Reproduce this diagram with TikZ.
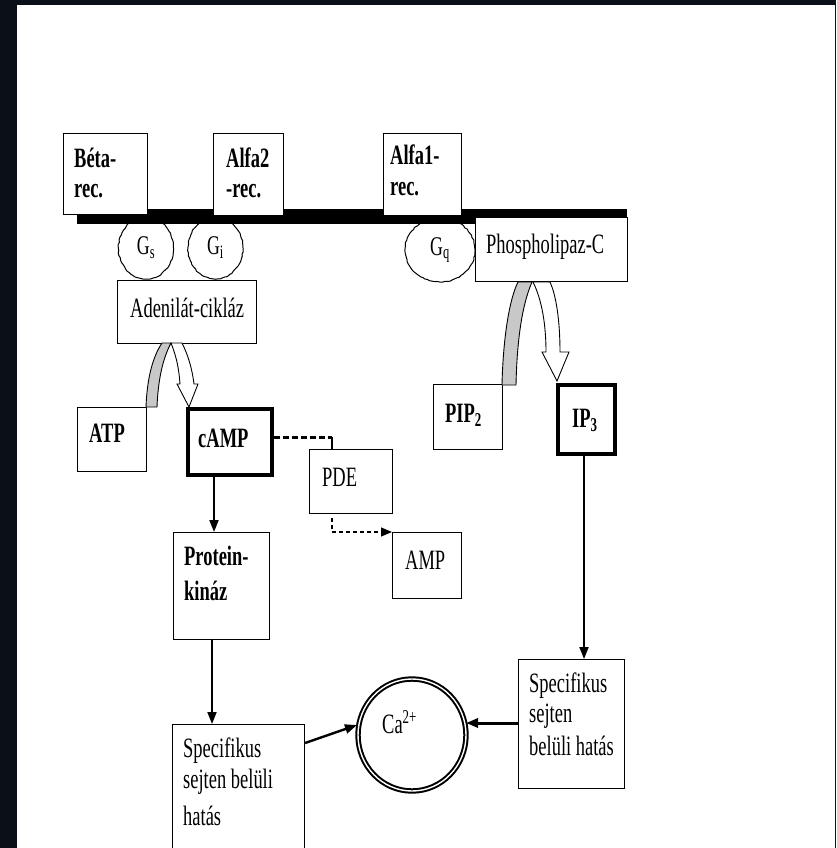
\documentclass[tikz,border=0pt]{standalone}
\usepackage{fontspec}
\setmainfont{Liberation Serif}[FakeStretch=0.66]
\usetikzlibrary{arrows.meta,shapes.geometric,decorations.pathmorphing}
\definecolor{bgdark}{HTML}{0A0F18}
\definecolor{bandgray}{HTML}{C8C8C8}
\newcommand{\txt}[4][lbl]{\node[#1] (#2) at (#3) {#4};}
\begin{document}
\begin{tikzpicture}[x=1pt,y=-1pt,
  box/.style={draw=black, line width=1.1pt, fill=white, inner sep=0pt, anchor=north west},
  thickbox/.style={box, line width=3.6pt},
  lbl/.style={anchor=base west, inner sep=0pt, font=\fontsize{28}{30}\selectfont},
  blbl/.style={lbl, font=\fontsize{28}{30}\selectfont\bfseries},
  gnode/.style={ellipse, draw=black, fill=white, line width=1pt, inner sep=0pt,
    decorate, decoration={random steps, segment length=2.5pt, amplitude=0.5pt},
    font=\fontsize{27}{30}\selectfont},
  arr/.style={-{Triangle[length=12pt,width=9pt]}, line width=1.8pt},
  band/.style={fill=bandgray, draw=black, line width=0.9pt},
  hollow/.style={fill=white, draw=black, line width=0.9pt}
]
\pgfmathsetseed{7}
\useasboundingbox (0,0) rectangle (836,848);
\clip (0,0) rectangle (836,848);
\fill[bgdark] (0,0) rectangle (836,848);
\fill[white] (17,5) rectangle (835,848);

% G proteins
\node[gnode, minimum width=55pt, minimum height=62pt] (gs) at (146,248) {G\textsubscript{s}};
\node[gnode, minimum width=55pt, minimum height=62pt] (gi) at (215.5,248) {G\textsubscript{i}};
\node[gnode, minimum width=70pt, minimum height=64pt] (gq) at (440,250) {G\textsubscript{q}};

% membrane
\fill[black] (77,209) rectangle (627,224);

% boxes
\node[box, minimum width=84pt, minimum height=81pt] (beta) at (63,133) {};
\node[box, minimum width=70pt, minimum height=82pt] (alfa2) at (213,133) {};
\node[box, minimum width=78pt, minimum height=82pt] (alfa1) at (383,133) {};
\node[box, minimum width=152pt, minimum height=64pt] (plc) at (475,217) {};
\node[box, minimum width=139pt, minimum height=63pt] (adc) at (117,280) {};
\node[box, minimum width=69pt, minimum height=64pt] (atp) at (77,407) {};
\node[thickbox, minimum width=84pt, minimum height=66pt] (camp) at (186,407) {};
\node[box, minimum width=83pt, minimum height=64pt] (pde) at (309,449) {};
\node[box, minimum width=69pt, minimum height=66pt] (amp) at (392,532) {};
\node[box, minimum width=96pt, minimum height=107pt] (pk) at (173,532) {};
\node[box, minimum width=69pt, minimum height=65pt] (pip) at (433,384) {};
\node[thickbox, minimum width=57pt, minimum height=69pt] (ip3) at (556,383) {};
\node[box, minimum width=106pt, minimum height=129pt] (spr) at (518,659) {};
\node[box, minimum width=132pt, minimum height=140pt] (spl) at (172,724) {};
\node[ellipse, draw=black, line width=2pt, double=white, double distance=1.4pt,
      minimum width=108pt, minimum height=112pt, inner sep=0pt] (ca) at (412,735) {};

% labels
\txt[blbl]{tbeta1}{74,167}{Béta-}
\txt[blbl]{tbeta2}{74,197}{rec.}
\txt[blbl]{talfa2a}{226,167}{Alfa2}
\txt[blbl]{talfa2b}{226,197}{-rec.}
\txt[blbl]{talfa1a}{390,164}{Alfa1-}
\txt[blbl]{talfa1b}{390,195}{rec.}
\txt{tplc}{486,253}{Phospholipaz-C}
\txt{tadc}{130,317}{Adenilát-cikláz}
\txt[blbl]{tatp}{89,442}{ATP}
\txt[blbl]{tcamp}{198,447}{cAMP}
\txt{tpde}{322,486}{PDE}
\txt{tamp}{405,569}{AMP}
\txt[blbl]{tpk1}{184,565}{Protein-}
\txt[blbl]{tpk2}{184,600}{kináz}
\txt[blbl]{tpip}{445,422}{PIP\textsubscript{2}}
\txt[blbl]{tip3}{572,427}{IP\textsubscript{3}}
\txt{tca}{382,733}{Ca\textsuperscript{2+}}
\txt{tspr1}{529,692}{Specifikus}
\txt{tspr2}{529,722}{sejten}
\txt{tspr3}{529,755}{belüli hatás}
\txt{tspl1}{183,757}{Specifikus}
\txt{tspl2}{183,788}{sejten belüli}
\txt{tspl3}{183,825}{hatás}

% curved conversion arrows (adenilat-ciklaz)
\filldraw[band] (162,343) .. controls (152,358) and (147,380) .. (146,407)
  -- (157,407) .. controls (158,382) and (162,360) .. (171,343) -- cycle;
\filldraw[hollow] (171,343) .. controls (177,358) and (179,370) .. (180,384)
  -- (177,384) -- (189,407) -- (198,384) -- (194,384)
  .. controls (192,368) and (188,355) .. (182,343) -- cycle;
% curved conversion arrows (phospholipaz-C)
\filldraw[band] (518,282) .. controls (509,300) and (503,340) .. (502,385)
  -- (516,385) .. controls (517,340) and (522,305) .. (532,282) -- cycle;
\filldraw[hollow] (533,282) .. controls (542,300) and (546,325) .. (546,352)
  -- (542,352) -- (557,381) -- (569,352) -- (560,352)
  .. controls (560,320) and (556,295) .. (550,282) -- cycle;

% coordinates for connectors
\coordinate (x214) at (214,0);
\coordinate (x212) at (212,0);
\coordinate (x584) at (584,0);
\coordinate (pdeC) at (332,437);
\coordinate (y743) at (0,743);
\coordinate (caL) at (357,725);
\coordinate (y723) at (0,723);
\coordinate (caR) at (466,723);

% connectors
\draw[arr] (camp.south -| x214) -- (pk.north -| x214);
\draw[arr] (pk.south -| x212) -- (spl.north -| x212);
\draw[arr] (ip3.south -| x584) -- (spr.north -| x584);
\draw[arr, line width=2.4pt] (spl.east |- y743) -- (caL);
\draw[arr, line width=3pt] (spr.west |- y723) -- (caR);
\draw[line width=3pt, dash pattern=on 6pt off 3pt] (camp.east |- pdeC) -- (pdeC);
\draw[line width=1.1pt] (pdeC) -- (pde.north -| pdeC);
\draw[line width=1.1pt, dash pattern=on 4pt off 3pt, -{Triangle[length=11pt,width=9pt]}]
  ([yshift=-4pt]pde.south -| pdeC) |- (amp.north west);
\end{tikzpicture}
\end{document}
